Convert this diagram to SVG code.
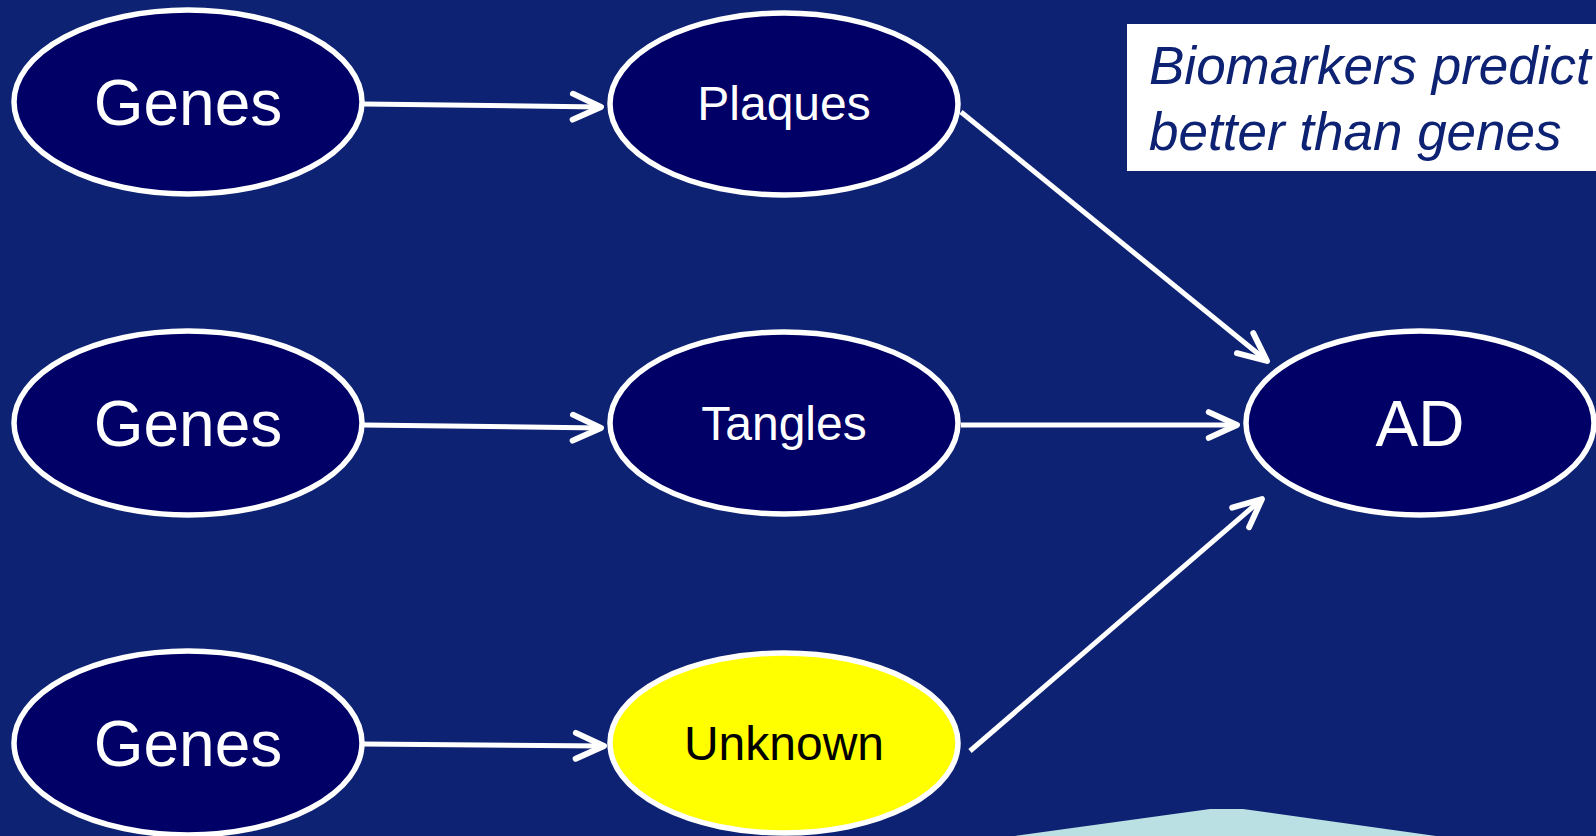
<svg xmlns="http://www.w3.org/2000/svg" width="1596" height="836" viewBox="0 0 1596 836">
  <style>
    .node { fill: #000066; stroke: #ffffff; stroke-width: 5.5; }
    .node.hi { fill: #ffff00; }
    .lbl { font-family: "Liberation Sans", Arial, sans-serif; fill: #ffffff; text-anchor: middle; }
    .big { font-size: 64px; }
    .mid { font-size: 48px; }
    .dark { fill: #000000; }
    .edge { stroke: #ffffff; stroke-width: 5; fill: none; marker-end: url(#arrow); }
    .note { font-family: "Liberation Sans", Arial, sans-serif; font-style: italic; font-size: 53px; fill: #0d2272; }
  </style>
  <defs>
    <marker id="arrow" markerUnits="userSpaceOnUse" markerWidth="40" markerHeight="40" viewBox="-30 -15 34 30" refX="0" refY="0" orient="auto">
      <path d="M-24,-11 L0,0 L-24,11" fill="none" stroke="#ffffff" stroke-width="5" stroke-linecap="round" stroke-linejoin="round"/>
    </marker>
  </defs>

  <!-- background -->
  <rect width="1596" height="836" fill="#0d2272"/>

  <!-- light wedge at the bottom edge -->
  <polygon points="1015,836 1210,809 1243,809 1436,836" fill="#bae0e4"/>

  <!-- annotation box -->
  <g id="note">
    <rect x="1127" y="24" width="469" height="147" fill="#ffffff"/>
    <text class="note" x="1149" y="84">Biomarkers predict</text>
    <text class="note" x="1149" y="150">better than genes</text>
  </g>

  <!-- connectors -->
  <g id="connectors">
    <line class="edge" x1="364" y1="104" x2="601" y2="107"/>
    <line class="edge" x1="364" y1="425" x2="601" y2="428"/>
    <line class="edge" x1="364" y1="744" x2="604" y2="746"/>
    <line class="edge" x1="961" y1="112" x2="1267" y2="361"/>
    <line class="edge" x1="961" y1="425" x2="1237" y2="425"/>
    <line class="edge" x1="970" y1="751" x2="1262" y2="499"/>
  </g>

  <!-- nodes -->
  <g id="genes1">
    <ellipse class="node" cx="188" cy="102" rx="174" ry="92"/>
    <text class="lbl big" x="188" y="125">Genes</text>
  </g>
  <g id="genes2">
    <ellipse class="node" cx="188" cy="423" rx="174" ry="92"/>
    <text class="lbl big" x="188" y="446">Genes</text>
  </g>
  <g id="genes3">
    <ellipse class="node" cx="188" cy="743" rx="174" ry="92"/>
    <text class="lbl big" x="188" y="766">Genes</text>
  </g>
  <g id="plaques">
    <ellipse class="node" cx="784" cy="104" rx="174" ry="91"/>
    <text class="lbl mid" x="784" y="120">Plaques</text>
  </g>
  <g id="tangles">
    <ellipse class="node" cx="784" cy="423" rx="174" ry="91"/>
    <text class="lbl mid" x="784" y="440">Tangles</text>
  </g>
  <g id="unknown">
    <ellipse class="node hi" cx="784" cy="743" rx="174" ry="90"/>
    <text class="lbl mid dark" x="784" y="760">Unknown</text>
  </g>
  <g id="ad">
    <ellipse class="node" cx="1420" cy="423" rx="174" ry="92"/>
    <text class="lbl big" x="1420" y="446">AD</text>
  </g>
</svg>
